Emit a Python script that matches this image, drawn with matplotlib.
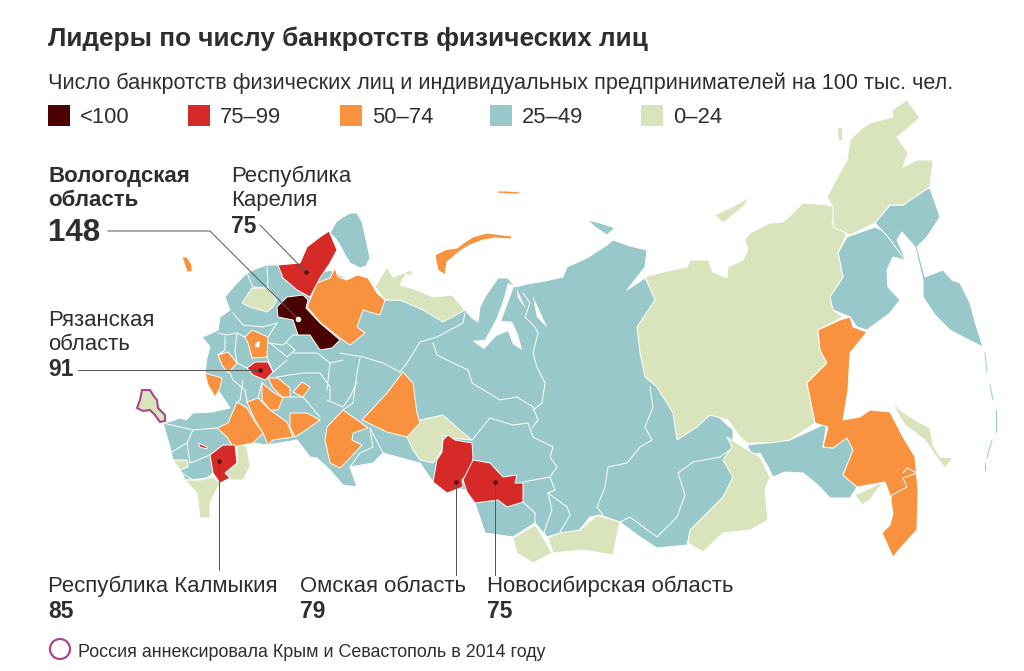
import matplotlib
matplotlib.use('Agg')
import matplotlib.pyplot as plt
from matplotlib.patches import Polygon, Circle, Rectangle

plt.rcParams['font.family'] = ['Liberation Sans', 'DejaVu Sans']

# Colours of the classes
c_dark = '#4a0102'
c_red = '#d52a28'
c_orange = '#f8923f'
c_teal = '#98c8c9'
c_green = '#d9e4bc'
c_text = '#2e2e2e'

legend_labels = ['<100', '75–99', '50–74', '25–49', '0–24']
legend_colors = [c_dark, c_red, c_orange, c_teal, c_green]

# Regions in image pixels
teal_main = [(225,297),(235,285),(247,273),(258,268),(267,265),(278,265),(300,280),(330,270),(385,300),(430,300),
             (465,310),(472,318),(478,322),(480,307),(485,297),(498,278),(508,278),(515,287),(527,284),(540,282),
             (563,277),(567,267),(587,258),(607,245),(613,240),(630,246),(647,250),(645,267),(627,290),(645,278),
             (657,300),(700,400),(733,430),(733,477),(723,503),(690,532),(687,545),(657,548),(640,537),(620,522),
             (600,515),(590,517),(577,533),(560,533),(547,537),(535,523),(513,537),(485,533),(475,503),(465,490),
             (433,482),(420,463),(383,453),(373,463),(350,467),(357,487),(343,485),(330,470),(317,458),(310,457),
             (297,440),(268,445),(253,443),(233,447),(223,445),(213,473),(205,480),(185,480),(182,473),(173,460),
             (170,447),(163,423),(172,421),(180,418),(186,420),(193,413),(212,412),(230,408),(220,393),(205,373),
             (207,358),(210,347),(202,337),(210,334),(218,330),(220,317),(230,310)]
murmansk = [(330,233),(336,222),(343,217),(350,213),(357,213),(362,222),(365,235),(370,258),(366,266),(360,268),
            (350,263),(345,255),(340,245),(335,238)]
magadan = [(847,237),(875,227),(887,233),(900,245),(905,260),(893,257),(887,270),(888,287),(900,300),
           (890,313),(867,330),(857,327),(850,317),(833,310),(828,297),(843,277),(838,253)]
kamchatka = [(875,223),(890,205),(903,205),(923,190),(930,188),(940,217),(927,237),(917,247),(925,277),
             (943,270),(952,280),(960,283),(970,303),(975,322),(983,347),(965,338),(950,330),(935,315),(923,297),
             (923,280),(915,247),(902,232),(897,240),(907,262),(888,237)]
amur = [(747,445),(790,440),(827,423),(823,447),(833,448),(847,437),(857,447),(843,475),(857,487),
        (850,498),(830,498),(818,485),(803,473),(785,472),(773,477),(768,467),(760,453),(752,455)]
taimyr_isl = [(587,220),(600,223),(615,228),(607,235),(595,227)]

yakutia = [(645,277),(663,272),(687,267),(690,260),(708,260),(713,272),(727,278),(728,267),(743,260),(748,250),
           (745,240),(750,233),(770,223),(783,222),(793,213),(803,203),(827,205),(837,207),(832,223),(847,233),
           (838,253),(843,277),(830,297),(833,310),(843,317),(818,330),(820,350),(827,363),(807,383),(815,423),
           (790,440),(770,443),(747,443),(740,437),(728,420),(710,415),(697,427),(677,440),(673,413),(657,387),
           (645,377),(640,353),(637,327),(655,300)]
chukotka = [(827,197),(837,178),(847,160),(850,140),(860,130),(870,123),(893,117),(892,110),(907,100),(920,118),
            (908,128),(897,137),(908,153),(903,167),(917,160),(933,160),(930,187),(903,205),(890,205),(875,223),
            (850,235),(833,227),(833,207)]
zabaykal = [(727,437),(743,447),(760,457),(770,477),(765,490),(768,520),(750,530),(723,533),(703,552),
            (688,543),(690,530),(723,497),(733,477),(723,460),(732,447)]
tuva = [(560,533),(580,530),(597,515),(620,522),(613,555),(583,550),(553,553),(548,538)]
altai = [(513,538),(535,525),(543,537),(552,553),(533,563),(517,553)]
tyumen = [(407,437),(420,420),(443,415),(460,430),(472,440),(450,438),(443,435),(442,450),(433,463),
          (420,460),(413,450)]
nenets = [(375,287),(387,267),(393,277),(407,272),(400,285),(417,290),(433,297),(452,295),(465,310),
          (443,322),(423,310),(400,300),(385,300)]
novgorod = [(242,303),(252,288),(268,288),(277,300),(273,307),(267,312),(250,307)]
dagestan = [(185,480),(200,480),(213,477),(220,483),(210,503),(210,518),(200,518),(197,493)]
astrakhan = [(237,443),(247,447),(250,467),(243,480),(227,480),(225,473),(237,463)]
adygea = [(173,460),(187,460),(188,467),(180,470)]
primorye = [(855,495),(883,482),(870,500),(862,505)]
sakhalin = [(893,402),(900,410),(915,420),(930,428),(933,445),(940,457),(953,458),(945,468),(935,455),(925,440),
            (905,425),(897,412)]
nsib_isl = [(715,215),(730,208),(750,197),(743,207),(723,223)]
wrangel = [(837,127),(842,127),(842,140),(838,140)]
kolguev = [(405,272),(412,270),(412,275),(406,275)]
crimea = [(137,408),(140,400),(142,390),(150,390),(153,395),(157,400),(158,408),(165,415),(165,421),(160,422),
          (155,415),(150,410),(143,411)]

arkhangelsk = [(307,307),(317,283),(330,278),(335,268),(338,277),(347,280),(357,275),(368,278),(377,293),
               (385,300),(380,315),(363,310),(357,327),(365,333),(350,345),(340,338),(320,322)]
moscow = [(245,337),(252,330),(268,337),(267,357),(252,358),(248,343)]
kaluga = [(218,355),(228,352),(237,363),(228,373),(222,365)]
kursk = [(205,373),(222,378),(220,388),(215,397),(208,385)]
tambov = [(262,383),(273,392),(283,398),(278,410),(270,410),(262,400)]
penza = [(268,378),(278,378),(290,388),(290,397),(282,397),(273,388)]
samara = [(293,392),(302,382),(310,387),(303,397)]
rostov = [(217,428),(228,423),(237,402),(247,408),(255,422),(263,433),(253,443),(233,447),(227,437)]
saratov = [(247,402),(258,398),(270,410),(287,422),(293,437),(273,440),(268,445),(263,433),(255,420)]
orenburg = [(290,413),(307,413),(320,420),(303,432),(295,437),(290,427)]
chelyabinsk = [(327,427),(343,410),(360,422),(368,428),(353,433),(352,440),(362,445),(350,458),(340,468),
               (330,463),(325,440)]
sverdlovsk = [(362,420),(387,393),(403,372),(413,383),(417,413),(420,423),(407,437),(387,432)]
khabarovsk = [(818,330),(840,320),(850,317),(853,327),(867,332),(850,353),(848,390),(843,420),(860,417),
              (870,410),(890,412),(903,437),(915,457),(918,490),(917,530),(903,545),(893,557),(882,533),
              (890,525),(893,513),(890,495),(885,482),(857,487),(843,475),(853,450),(847,438),(833,448),
              (823,447),(828,427),(815,423),(807,383),(827,363),(820,350)]
nzemlya = [(435,255),(445,250),(457,248),(465,242),(473,237),(487,233),(503,235),(512,236),(511,239),(495,238),
           (483,240),(470,245),(460,251),(447,262),(445,275),(438,270)]
fjl = [(497,191),(508,191),(520,192),(520,194),(508,194),(497,193)]
kaliningrad = [(182,257),(187,257),(192,265),(192,272),(187,272)]

vologda = [(277,307),(287,297),(303,295),(308,300),(306,308),(320,323),(340,340),(332,348),(320,350),
           (310,335),(298,335),(293,320),(278,317)]
karelia = [(278,265),(300,263),(307,247),(320,237),(329,231),(337,250),(330,263),(320,278),(310,297),
           (297,290),(283,278)]
ryazan = [(247,368),(255,362),(268,362),(273,372),(265,380),(253,375)]
kalmykia = [(210,455),(223,445),(235,445),(237,463),(225,473),(230,478),(220,483),(213,473)]
ingushetia = [(198,443),(207,447),(207,449),(200,447)]
omsk = [(443,440),(448,435),(455,440),(472,443),(473,457),(472,467),(462,480),(463,487),(447,493),
        (433,482),(437,460),(442,452)]
novosibirsk = [(463,480),(473,460),(490,463),(503,477),(517,475),(515,483),(523,483),(523,502),(507,507),
               (498,500),(475,503),(467,492)]

teal_regions = [teal_main, murmansk, magadan, kamchatka, amur, taimyr_isl]
green_regions = [yakutia, chukotka, zabaykal, tuva, altai, tyumen, nenets, novgorod, dagestan, astrakhan,
                 adygea, primorye, sakhalin, nsib_isl, wrangel, kolguev]
orange_regions = [arkhangelsk, moscow, kaluga, kursk, tambov, penza, samara, rostov, saratov, orenburg,
                  chelyabinsk, sverdlovsk, khabarovsk, nzemlya, fjl, kaliningrad]
red_regions = [karelia, ryazan, kalmykia, ingushetia, omsk, novosibirsk]

# Bays cut out of the north coast
ob_gulf = [(508,283),(514,286),(507,305),(501,321),(512,322),(518,335),(522,350),(513,344),(508,331),(496,336),
           (484,349),(473,341),(485,340),(496,320),(503,302)]
taz_gulf = [(517,290),(525,307),(518,298)]
yenisei_gulf = [(533,297),(547,327),(537,317)]
moscow_city = [(256,343),(260,341),(259,347),(255,347)]

# Borders inside the teal area
borders = [
    [(340,353),(363,357),(383,363),(400,372)],
    [(400,372),(407,363),(420,342),(437,337),(463,323),(465,313)],
    [(233,313),(243,325),(263,327),(277,323)],
    [(218,333),(227,335),(237,333),(245,337)],
    [(225,337),(225,350),(218,355)],
    [(237,333),(235,350),(237,363),(247,368)],
    [(268,337),(277,323)],
    [(268,343),(283,345),(293,335),(298,335)],
    [(270,343),(287,357),(295,350),(287,343)],
    [(267,357),(273,372)],
    [(273,372),(287,360)],
    [(277,377),(303,373),(320,373),(330,387),(330,400)],
    [(293,353),(317,353),(330,363),(343,360)],
    [(330,363),(327,390)],
    [(360,358),(357,373),(353,403),(343,410)],
    [(327,400),(343,407),(350,397),(357,382)],
    [(290,397),(303,397),(320,417)],
    [(230,373),(233,380),(245,390),(247,402)],
    [(243,380),(240,400),(237,402)],
    [(262,382),(258,398)],
    [(163,423),(193,430),(187,443),(170,453)],
    [(193,430),(217,428)],
    [(187,443),(190,463),(210,455)],
    [(182,473),(193,480),(212,477)],
    [(370,428),(383,453)],
    [(350,467),(360,453),(373,447),(370,430)],
    [(247,273),(253,287),(268,288),(267,267)],
    [(433,343),(437,355),(453,363),(468,370),(472,383),(500,400),(517,397),(533,407),(538,420),(532,428)],
    [(472,440),(490,418),(513,425),(528,423),(533,437),(553,447),(550,457),(557,467),(550,477)],
    [(523,293),(530,303),(525,317),(535,327),(538,333),(533,353),(537,367),(545,383),(542,403),(533,410)],
    [(523,482),(550,477),(555,490),(548,493),(567,507),(570,515),(560,532)],
    [(548,493),(552,510),(547,523),(543,537)],
    [(523,502),(535,513),(535,523)],
    [(650,387),(653,407),(645,427),(652,440),(640,447),(627,463),(608,467),(605,487),(597,507),(603,515)],
    [(678,473),(693,462),(720,457),(730,450)],
    [(678,473),(685,495),(677,517),(657,537),(630,517),(620,522)],
]
# Border inside the orange Far East
khabarovsk_border = [(903,473),(907,468),(917,473),(903,478),(907,487),(892,495),(890,503)]

kuril = [[(985,353),(987,372)],[(990,385),(993,400)],[(996,410),(996,432)],[(992,440),(987,458)],[(985,463),(985,470)]]

# Callouts
vologda_leader = [(108,231),(210,231),(297,318)]
karelia_leader = [(260,225),(306,272)]
ryazan_leader = [(78,370),(260,370)]
kalmykia_leader = [(219,461),(219,570)]
omsk_leader = [(456,482),(456,575)]
novosib_leader = [(495,482),(495,575)]

fig = plt.figure(figsize=(10.24,6.71), dpi=100)
ax = fig.add_axes([0,0,1,1])
ax.set_xlim(0,1024)
ax.set_ylim(671,0)
ax.axis('off')

def draw(regions, color, edge='white', lw=0.7):
    for r in regions:
        ax.add_patch(Polygon(r, closed=True, facecolor=color, edgecolor=edge, linewidth=lw, joinstyle='round'))

draw(teal_regions, c_teal)
for b in borders:
    ax.plot([p[0] for p in b], [p[1] for p in b], color='white', lw=0.7)
draw(green_regions, c_green)
draw(orange_regions, c_orange)
draw(red_regions, c_red)
draw([vologda], c_dark)
draw([ob_gulf, taz_gulf, yenisei_gulf, moscow_city], 'white', lw=0.2)
ax.plot([p[0] for p in khabarovsk_border], [p[1] for p in khabarovsk_border], color='white', lw=0.7)
ax.add_patch(Polygon(crimea, closed=True, facecolor=c_green, edgecolor='#a9468c', linewidth=1.5))
for k in kuril:
    ax.plot([p[0] for p in k], [p[1] for p in k], color=c_teal, lw=0.7)

for l in [vologda_leader, karelia_leader, ryazan_leader, kalmykia_leader, omsk_leader, novosib_leader]:
    ax.plot([p[0] for p in l], [p[1] for p in l], color='#555555', lw=0.7)
ax.plot([306,260,219,456,495], [272,370,461,482,482], ls='none', marker='o', ms=3.2,
        mfc='#5a0a0a', mec='none')
ax.plot([298], [319], ls='none', marker='o', ms=4, mfc='white', mec='none')

# Texts
ax.text(48,46,'Лидеры по числу банкротств физических лиц', fontsize=18.8, fontweight='bold', color=c_text)
ax.text(48,89,'Число банкротств физических лиц и индивидуальных предпринимателей на 100 тыс. чел.',
        fontsize=15.6, color=c_text)

legend_x = [48,188,340,490,641]
for x, col, lab in zip(legend_x, legend_colors, legend_labels):
    ax.add_patch(Rectangle((x,105), 22, 21, facecolor=col, edgecolor='none'))
    ax.text(x+32,123,lab, fontsize=15.8, color=c_text)

ax.text(48,182,'Вологодская', fontsize=16, fontweight='bold', color=c_text)
ax.text(48,206,'область', fontsize=16, fontweight='bold', color=c_text)
ax.text(48,241,'148', fontsize=22.5, fontweight='bold', color=c_text)
ax.text(231,182,'Республика', fontsize=15.9, color=c_text)
ax.text(231,206,'Карелия', fontsize=15.9, color=c_text)
ax.text(231,233,'75', fontsize=16.5, fontweight='bold', color=c_text)
ax.text(48,326,'Рязанская', fontsize=15.9, color=c_text)
ax.text(48,350,'область', fontsize=15.9, color=c_text)
ax.text(48,376,'91', fontsize=16.5, fontweight='bold', color=c_text)
ax.text(48,592,'Республика Калмыкия', fontsize=15.9, color=c_text)
ax.text(48,618,'85', fontsize=16.5, fontweight='bold', color=c_text)
ax.text(300,592,'Омская область', fontsize=15.9, color=c_text)
ax.text(300,618,'79', fontsize=16.5, fontweight='bold', color=c_text)
ax.text(487,592,'Новосибирская область', fontsize=15.9, color=c_text)
ax.text(487,618,'75', fontsize=16.5, fontweight='bold', color=c_text)

ax.add_patch(Circle((60,649), 10, facecolor='white', edgecolor='#a9468c', linewidth=1.6))
ax.text(78,657,'Россия аннексировала Крым и Севастополь в 2014 году', fontsize=12.9, color=c_text)

fig.savefig('out.png', dpi=100)
